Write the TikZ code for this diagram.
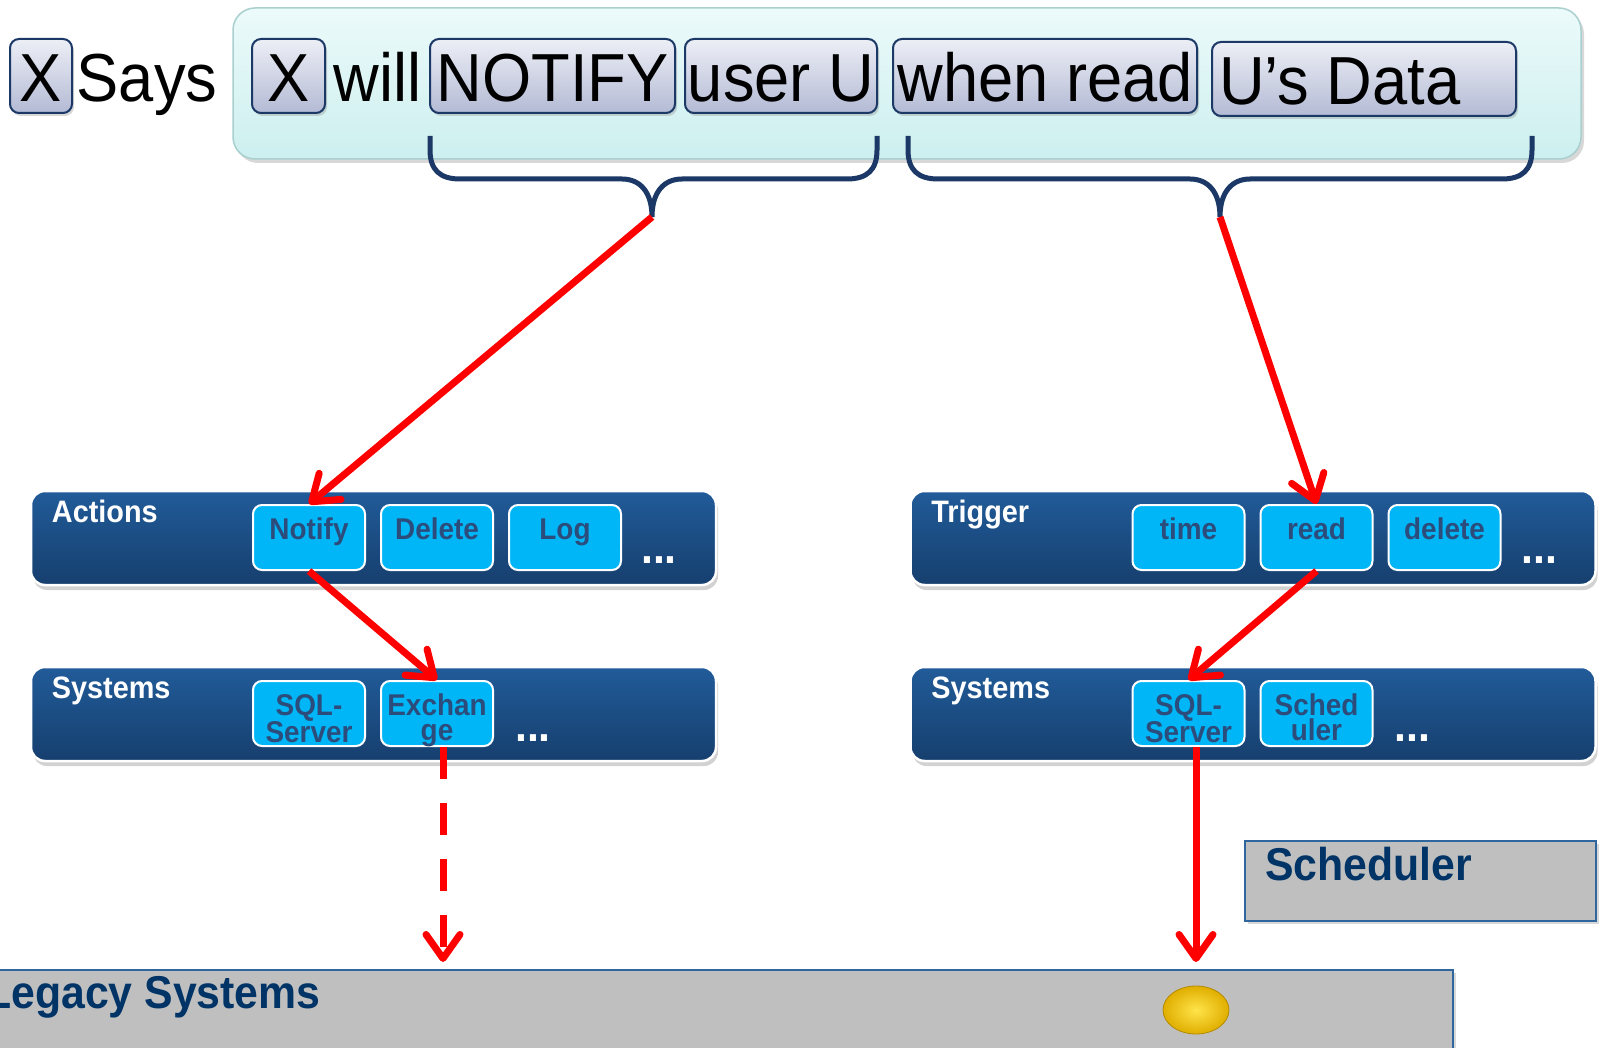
\documentclass[tikz,border=0pt]{standalone}
\usepackage{fontspec}
\setmainfont{Liberation Sans}
\newfontfamily\nsf[FakeStretch=0.93]{Liberation Sans}
\usetikzlibrary{arrows.meta,shadows,shapes.geometric}

\definecolor{bandtop}{HTML}{ECFAFA}
\definecolor{bandbot}{HTML}{CDEFEF}
\definecolor{bandline}{HTML}{A9CFCF}
\definecolor{chiptop}{HTML}{EDEFF6}
\definecolor{chipbot}{HTML}{B3BAD4}
\definecolor{navy}{HTML}{1B3866}
\definecolor{paneltop}{HTML}{215B99}
\definecolor{panelbot}{HTML}{163F6E}
\definecolor{btnfill}{HTML}{00B6F6}
\definecolor{btntext}{HTML}{2C4C7C}
\definecolor{boxgray}{HTML}{BFBFBF}
\definecolor{boxline}{HTML}{2F669E}
\definecolor{darkblue}{HTML}{003366}
\definecolor{arrowred}{HTML}{FF0000}
\definecolor{cointop}{HTML}{FFE44A}
\definecolor{coinedge}{HTML}{E0AE00}

% button caption: first baseline at the top of the box
\newcommand\btnlabel[1]{\parbox[t]{112pt}{\centering\nsf\bfseries\fontsize{30}{25.5}\selectfont #1\par}}

\tikzset{
  band/.style={draw=bandline, line width=1.5pt, rounded corners=22pt,
    top color=bandtop, bottom color=bandbot,
    drop shadow={shadow xshift=3pt, shadow yshift=-4pt, opacity=0.3}},
  bigtext/.style={inner sep=0pt, text height=52pt, text depth=0pt,
    font=\nsf\fontsize{68}{68}\selectfont},
  chip/.style={bigtext, draw=navy, line width=2pt, rounded corners=9pt,
    top color=chiptop, bottom color=chipbot, minimum height=74pt,
    drop shadow={shadow xshift=2pt, shadow yshift=-3pt, opacity=0.3}},
  brace/.style={draw=navy, line width=5pt},
  panel/.style={draw=white, line width=2.5pt, rounded corners=14pt,
    top color=paneltop, bottom color=panelbot,
    minimum width=685pt, minimum height=94pt, inner sep=0pt,
    drop shadow={shadow xshift=2pt, shadow yshift=-5pt, opacity=0.35}},
  panellabel/.style={anchor=base west, inner sep=0pt, text=white,
    font=\nsf\bfseries\fontsize{31}{31}\selectfont},
  btn/.style={draw=white, line width=2pt, rounded corners=9pt, fill=btnfill,
    minimum width=112pt, minimum height=65pt, inner sep=0pt,
    text height=34pt, text depth=31pt, text=btntext},
  dots/.style={anchor=base west, inner sep=0pt, text=white,
    font=\nsf\bfseries\fontsize{46}{46}\selectfont},
  graybox/.style={draw=boxline, line width=2.5pt, fill=boxgray, inner sep=0pt,
    drop shadow={shadow xshift=3pt, shadow yshift=-3pt, opacity=0.3}},
  boxlabel/.style={anchor=base west, inner sep=0pt, text=darkblue,
    font=\nsf\bfseries\fontsize{46}{46}\selectfont},
  coin/.style={ellipse, minimum width=66pt, minimum height=48pt, inner sep=0pt,
    inner color=cointop, outer color=coinedge, draw=coinedge!80!black, line width=0.8pt},
  arrow/.style={draw=arrowred, line width=7pt,
    -{Straight Barb[length=24pt, width=34pt, round]}},
}

\begin{document}
\begin{tikzpicture}[x=1pt, y=-1pt]
\useasboundingbox[fill=white] (0,0) rectangle (1604,1048);

% statement band
\node[band, minimum width=1348pt, minimum height=151pt] (band) at (907,83.5) {};

\node[chip, minimum width=62pt] (xa) at (41,76) {X};
\node[bigtext] (says) at (147,76) {Says};
\node[chip, minimum width=73pt] (xb) at (288.5,76) {X};
\node[bigtext] (will) at (377.5,76) {will};
\node[chip, minimum width=245pt] (notifyw) at (552.5,76) {NOTIFY};
\node[chip, minimum width=192pt] (userw) at (781,76) {user U};
\node[chip, minimum width=304pt] (readw) at (1045,76) {when read};
\node[chip, minimum width=304pt] (dataw) at (1364,79) {\makebox[290pt][l]{U’s Data}};

% braces
\coordinate (tipL) at (652,217);
\coordinate (tipR) at (1220,217);
\draw[brace] (430,136) -- (430,150) .. controls (430,170) and (440,179) .. (460,179)
  -- (622,179) .. controls (640,179) and (652,192) .. (tipL)
  .. controls (652,192) and (664,179) .. (682,179)
  -- (847,179) .. controls (867,179) and (877,170) .. (877,150) -- (877,136);
\draw[brace] (908,136) -- (908,150) .. controls (908,170) and (918,179) .. (938,179)
  -- (1190,179) .. controls (1208,179) and (1220,192) .. (tipR)
  .. controls (1220,192) and (1232,179) .. (1250,179)
  -- (1502,179) .. controls (1522,179) and (1532,170) .. (1532,150) -- (1532,136);

% panels
\node[panel] (actions) at (373.5,538) {};
\node[panel] (sysL) at (373.5,714) {};
\node[panel] (trigger) at (1253,538) {};
\node[panel] (sysR) at (1253,714) {};

\node[panellabel] (actlbl) at ([xshift=22pt, yshift=-33pt]actions.north west) {Actions};
\node[panellabel] (syslblL) at ([xshift=22pt, yshift=-33pt]sysL.north west) {Systems};
\node[panellabel] (triglbl) at ([xshift=22pt, yshift=-33pt]trigger.north west) {Trigger};
\node[panellabel] (syslblR) at ([xshift=22pt, yshift=-33pt]sysR.north west) {Systems};

\node[btn] (notify) at (309,537.5) {\btnlabel{Notify}};
\node[btn] (delete) at (437,537.5) {\btnlabel{Delete}};
\node[btn] (log) at (565,537.5) {\btnlabel{Log}};
\node[dots] (dotsA) at (641,563) {...};

\node[btn] (sqlL) at (309,713.5) {\btnlabel{SQL-\\Server}};
\node[btn] (exchange) at (437,713.5) {\btnlabel{Exchan\\ge}};
\node[dots] (dotsB) at (515,741) {...};

\node[btn] (time) at (1188.5,537.5) {\btnlabel{time}};
\node[btn] (read) at (1316.5,537.5) {\btnlabel{read}};
\node[btn] (deltrig) at (1444.5,537.5) {\btnlabel{delete}};
\node[dots] (dotsC) at (1521,563) {...};

\node[btn] (sqlR) at (1188.5,713.5) {\btnlabel{SQL-\\Server}};
\node[btn] (sched) at (1316.5,713.5) {\btnlabel{Sched\\uler}};
\node[dots] (dotsD) at (1394,741) {...};

% lower boxes
\node[graybox, minimum width=351pt, minimum height=80pt] (scheduler) at (1420.5,881) {};
\node[boxlabel] (schedlbl) at (1265,880) {Scheduler};
\node[graybox, minimum width=1466pt, minimum height=92pt] (legacy) at (720,1016) {};
\node[boxlabel] (legacylbl) at (-15,1008) {Legacy Systems};
\node[coin] (coin) at (1196,1010) {};

% flow arrows
\coordinate (legL) at (443,962);
\coordinate (legR) at (1196,962);
\draw[arrow] (tipL) -- (notify.north);
\draw[arrow] (tipR) -- (read.north);
\draw[arrow] (notify.south) -- (exchange.north);
\draw[arrow] (read.south) -- (sqlR.north);
\draw[arrow, dash pattern=on 32pt off 24pt] (exchange.south -| legL) -- (legL);
\draw[arrow] (sqlR.south -| legR) -- (legR);
\end{tikzpicture}
\end{document}
